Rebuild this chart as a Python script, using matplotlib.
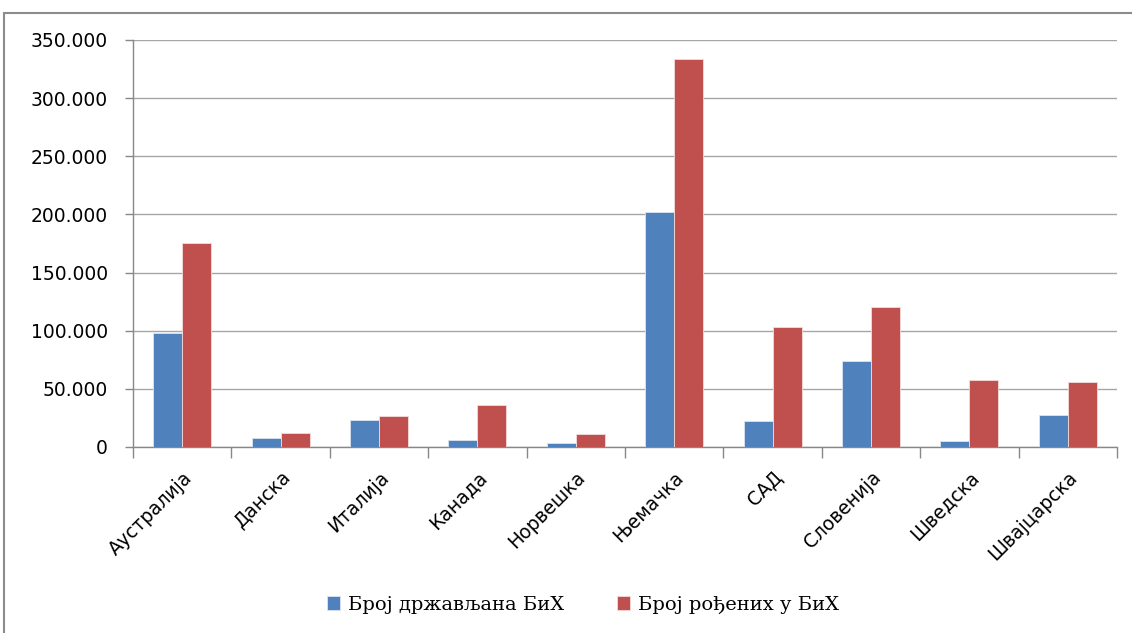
import numpy as np
import matplotlib.pyplot as plt
from matplotlib.patches import Rectangle
from matplotlib.ticker import FuncFormatter, MultipleLocator

# podaci procijenjeni sa slike
zemlje = ['Аустралија', 'Данска', 'Италија', 'Канада', 'Норвешка',
          'Њемачка', 'САД', 'Словенија', 'Шведска', 'Швајцарска']
drzavljani = [98300, 7500, 23600, 6300, 3200, 202000, 22400, 74100, 5200, 27300]
rodjeni = [175300, 12400, 26400, 36500, 11500, 333900, 103200, 120400, 57200, 56300]
serije = ['Број држављана БиХ', 'Број рођених у БиХ']

plava = '#4F81BD'
crvena = '#C0504D'

fig = plt.figure(figsize=(11.32, 6.33), dpi=100)
ax = fig.add_axes([133/1132, 1 - 447/633, (1117 - 133)/1132, (447 - 40)/633])

x = np.arange(len(zemlje))
w = 0.295
ax.bar(x - w/2, drzavljani, w, color=plava, edgecolor='#dbe5f1', linewidth=0.6,
       label=serije[0], zorder=3)
ax.bar(x + w/2, rodjeni, w, color=crvena, edgecolor='#f2dcdb', linewidth=0.6,
       label=serije[1], zorder=3)

ax.set_xlim(-0.5, len(zemlje) - 0.5)
ax.set_ylim(0, 350000)
ax.yaxis.set_major_locator(MultipleLocator(50000))
ax.yaxis.set_major_formatter(FuncFormatter(lambda v, p: f'{int(v):,}'.replace(',', '.')))
ax.grid(axis='y', color='#a6a6a6', linewidth=1, zorder=0)

for s in ['top', 'right']:
    ax.spines[s].set_visible(False)
for s in ['left', 'bottom']:
    ax.spines[s].set_color('#888888')
    ax.spines[s].set_linewidth(1)

ax.tick_params(axis='y', length=6, width=1, color='#888888', pad=12,
               labelsize=13.5, labelcolor='black')
ax.set_xticks(x)
ax.set_xticklabels(zemlje, rotation=45, ha='right', va='top',
                   rotation_mode='anchor', fontsize=13.5)
ax.tick_params(axis='x', which='major', length=0, pad=15)
ax.set_xticks(np.arange(len(zemlje) + 1) - 0.5, minor=True)
ax.tick_params(axis='x', which='minor', length=8, width=1, color='#888888')

fig.legend(loc='center', bbox_to_anchor=(583/1132, 1 - 605/633), ncol=2,
           frameon=False, handlelength=0.7, handleheight=0.7, handletextpad=0.4,
           columnspacing=2.7, prop={'family': 'DejaVu Serif', 'size': 14})

# okvir grafikona
fig.patches.append(Rectangle((4/1132, -0.1), 1.2, 1.1 - 13/633, transform=fig.transFigure,
                             fill=False, edgecolor='#8c8c8c', linewidth=1.5))

fig.savefig('out.png', dpi=100)
